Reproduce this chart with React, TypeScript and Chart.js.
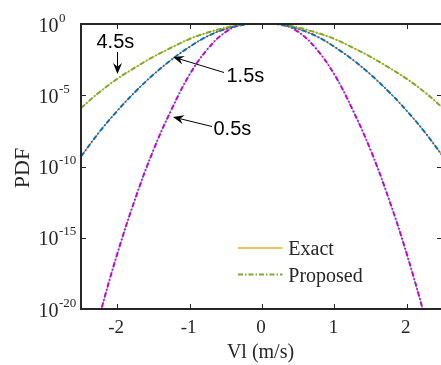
import { useEffect, useRef } from "react";
import { Chart, registerables } from "chart.js";

Chart.register(...registerables);

// ---- data ----
const velocity = [-2.5, -2.25, -2, -1.75, -1.5, -1.25, -1, -0.75, -0.5, -0.25, 0, 0.25, 0.5, 0.75, 1, 1.25, 1.5, 1.75, 2, 2.25, 2.5];

const pdf05s = [2.5e-26, 2.5e-21, 7.1e-17, 5.6e-13, 1.41e-9, 1.0e-6, 2.82e-4, 1.78e-2, 0.282, 1.07, 1.41, 1.07, 0.282, 1.78e-2, 2.82e-4, 1.0e-6, 1.41e-9, 5.6e-13, 7.1e-17, 2.5e-21, 2.5e-26];
const pdf15s = [5.01e-10, 2.51e-8, 7.94e-7, 1.78e-5, 2.82e-4, 3.16e-3, 2.51e-2, 0.141, 0.447, 0.891, 1.26, 0.891, 0.447, 0.141, 2.51e-2, 3.16e-3, 2.82e-4, 1.78e-5, 7.94e-7, 2.51e-8, 5.01e-10];
const pdf45s = [1.26e-6, 1.58e-5, 1.41e-4, 8.91e-4, 5.01e-3, 2.24e-2, 8.91e-2, 0.251, 0.562, 1.0, 1.26, 1.0, 0.562, 0.251, 8.91e-2, 2.24e-2, 5.01e-3, 8.91e-4, 1.41e-4, 1.58e-5, 1.26e-6];

const xTicks = [-2, -1, 0, 1, 2];
const yTickExponents = [0, -5, -10, -15, -20];
const legendLabels = ["Exact", "Proposed"];
const timeLabels = ["0.5s", "1.5s", "4.5s"];
const xTitle = "Vl (m/s)";
const yTitle = "PDF";

const SERIF = '"Liberation Serif", "Times New Roman", serif';
const SANS = '"Liberation Sans", Arial, sans-serif';
const AXIS = "#262626";
const DASHDOT = [5, 2, 1.5, 2];
const EXACT_COLORS = ["#4DBEEE", "#D95319", "#EDB120"];
const PROPOSED_COLORS = ["#CC00CC", "#0072BD", "#77AC30"];

function pts(values: number[]) {
  return velocity.map((v, i) => ({ x: v, y: values[i] }));
}

function arrow(ctx: CanvasRenderingContext2D, x0: number, y0: number, x1: number, y1: number) {
  const dx = x1 - x0, dy = y1 - y0;
  const len = Math.hypot(dx, dy);
  const ux = dx / len, uy = dy / len;
  const px = -uy, py = ux;
  const L = 11, W = 4.5;
  ctx.beginPath();
  ctx.moveTo(x0, y0);
  ctx.lineTo(x1 - ux * L * 0.6, y1 - uy * L * 0.6);
  ctx.stroke();
  const bx = x1 - ux * L, by = y1 - uy * L;
  ctx.beginPath();
  ctx.moveTo(x1, y1);
  ctx.lineTo(bx + px * W, by + py * W);
  ctx.lineTo(x1 - ux * L * 0.65, y1 - uy * L * 0.65);
  ctx.lineTo(bx - px * W, by - py * W);
  ctx.closePath();
  ctx.fill();
}

const decorPlugin = {
  id: "decor",
  afterDraw(chart: any) {
    const { ctx, chartArea: a } = chart;
    const xs = chart.scales.x, ys = chart.scales.y;
    ctx.save();
    // axes box (left, top, bottom)
    ctx.strokeStyle = AXIS;
    ctx.lineWidth = 2;
    ctx.beginPath();
    ctx.moveTo(a.right + 2, a.top);
    ctx.lineTo(a.left, a.top);
    ctx.lineTo(a.left, a.bottom);
    ctx.lineTo(a.right + 2, a.bottom);
    ctx.stroke();

    // ticks
    ctx.lineWidth = 1;
    ctx.fillStyle = AXIS;
    ctx.font = `19px ${SERIF}`;
    ctx.textAlign = "center";
    ctx.textBaseline = "alphabetic";
    for (const v of xTicks) {
      const px = Math.round(xs.getPixelForValue(v)) + 0.5;
      ctx.beginPath();
      ctx.moveTo(px, a.bottom);
      ctx.lineTo(px, a.bottom - 5);
      ctx.moveTo(px, a.top);
      ctx.lineTo(px, a.top + 5);
      ctx.stroke();
      ctx.fillText(v < 0 ? "-" + Math.abs(v) : String(v), xs.getPixelForValue(v) - 1, 333);
    }
    for (const e of yTickExponents) {
      const py = Math.round(ys.getPixelForValue(Math.pow(10, e))) + 0.5;
      ctx.beginPath();
      ctx.moveTo(a.left, py);
      ctx.lineTo(a.left + 5, py);
      ctx.moveTo(a.right, py);
      ctx.lineTo(a.right - 4, py);
      ctx.stroke();
      const cy = ys.getPixelForValue(Math.pow(10, e));
      ctx.textAlign = "right";
      ctx.font = `20px ${SERIF}`;
      ctx.fillText("10", 58.5, cy + 7.5);
      ctx.textAlign = "left";
      ctx.font = `13px ${SERIF}`;
      ctx.fillText(String(e), 59, cy - 2.5);
    }

    // axis titles
    ctx.font = `20px ${SERIF}`;
    ctx.textAlign = "center";
    ctx.fillText(xTitle, 260.5, 358);
    ctx.save();
    ctx.translate(28.5, 168);
    ctx.rotate(-Math.PI / 2);
    ctx.font = `22px ${SERIF}`;
    ctx.fillText(yTitle, 0, 0);
    ctx.restore();

    // annotations
    ctx.fillStyle = "#000";
    ctx.strokeStyle = "#000";
    ctx.lineWidth = 1;
    ctx.font = `20px ${SANS}`;
    ctx.textAlign = "left";
    ctx.fillText(timeLabels[2], 96.5, 47.7);
    arrow(ctx, 117.5, 52, 117.5, 74);
    ctx.fillText(timeLabels[1], 226.5, 81.5);
    arrow(ctx, 224, 72.5, 173, 57);
    ctx.fillText(timeLabels[0], 213.5, 134.5);
    arrow(ctx, 212, 126.5, 173, 117);

    // legend
    ctx.strokeStyle = EXACT_COLORS[2];
    ctx.lineWidth = 1.3;
    ctx.beginPath();
    ctx.moveTo(238, 248);
    ctx.lineTo(282.5, 248);
    ctx.stroke();
    ctx.strokeStyle = PROPOSED_COLORS[2];
    ctx.lineWidth = 2;
    ctx.setLineDash(DASHDOT);
    ctx.beginPath();
    ctx.moveTo(238, 274.5);
    ctx.lineTo(282.5, 274.5);
    ctx.stroke();
    ctx.setLineDash([]);
    ctx.fillStyle = AXIS;
    ctx.font = `20px ${SERIF}`;
    ctx.fillText(legendLabels[0], 288.3, 255);
    ctx.fillText(legendLabels[1], 288.3, 282);
    ctx.restore();
  },
};

export default function App() {
  const ref = useRef<HTMLCanvasElement | null>(null);
  useEffect(() => {
    document.body.style.margin = "0";
    const canvas = ref.current;
    if (!canvas) return;
    const series = [pdf05s, pdf15s, pdf45s];
    const datasets: any[] = [];
    for (let k = 2; k >= 0; k--) {
      datasets.push({
        label: `${legendLabels[0]} ${timeLabels[k]}`,
        data: pts(series[k]),
        borderColor: EXACT_COLORS[k],
        borderWidth: 1,
        order: 1,
      });
      datasets.push({
        label: `${legendLabels[1]} ${timeLabels[k]}`,
        data: pts(series[k]),
        borderColor: PROPOSED_COLORS[k],
        borderWidth: 2,
        borderDash: DASHDOT,
        order: 0,
      });
    }
    const chart = new Chart(canvas, {
      type: "line",
      data: { datasets },
      options: {
        responsive: false,
        animation: false,
        devicePixelRatio: 1,
        layout: { padding: { left: 81, top: 24, right: 0, bottom: 56 } },
        elements: {
          point: { radius: 0 },
          line: { tension: 0.4, fill: false },
        },
        scales: {
          x: { type: "linear", min: -2.5, max: 2.472, display: false },
          y: { type: "logarithmic", min: 1e-20, max: 1, display: false },
        },
        plugins: { legend: { display: false }, tooltip: { enabled: false } },
      },
      plugins: [decorPlugin],
    });
    return () => chart.destroy();
  }, []);
  return (
    <div style={{ width: 441, height: 365, background: "#fff" }}>
      <canvas ref={ref} width={441} height={365} style={{ display: "block" }} />
    </div>
  );
}
